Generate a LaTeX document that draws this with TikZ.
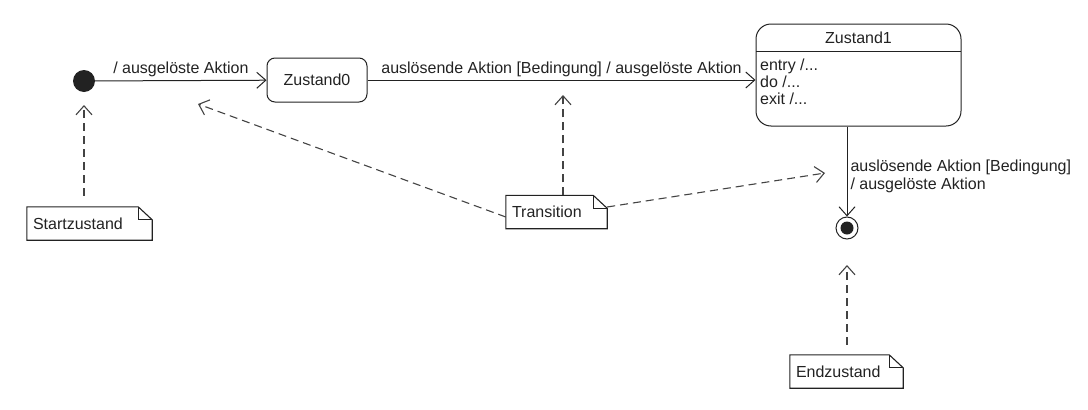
\documentclass[tikz,border=0pt]{standalone}
\usepackage{fontspec}
\setmainfont{Liberation Sans}
\usetikzlibrary{arrows.meta}
\definecolor{ink}{HTML}{222222}
\newcommand{\drawnote}[1]{%
  \draw[notel] (#1.south west) -- (#1.north west) -- ([xshift=-14pt]#1.north east) -- ([yshift=-13pt]#1.north east) -- (#1.south east) -- cycle;
  \draw[notel] ([xshift=-14pt]#1.north east) |- ([yshift=-13pt]#1.north east);}
\begin{document}
\begin{tikzpicture}[x=1pt,y=-1pt,
  every node/.style={font=\fontsize{16}{18}\selectfont, text=ink},
  line/.style={draw=ink, line width=1pt},
  notel/.style={draw=ink, line width=1.1pt},
  trans/.style={line, -{Straight Barb[length=9pt,width=16pt,line width=1pt]}},
  notearrow/.style={draw=ink!85, line width=1.1pt, dash pattern=on 8pt off 5pt, -{Straight Barb[length=9pt,width=16pt,line width=1.1pt]}},
  statebox/.style={draw=ink, line width=1pt, rounded corners=8pt, minimum width=100pt, minimum height=44pt, inner sep=0pt},
  notebox/.style={inner xsep=6pt, inner ysep=0pt, minimum height=33pt, align=left},
]
\useasboundingbox (0,0) rectangle (1088,410);
% start state
\node[circle, fill=ink, minimum size=22pt, inner sep=0pt] (start) at (84,81) {};
% Zustand0
\node[statebox] (z0) at (317,80) {Zustand0};
% Zustand1
\node[draw=ink, line width=1pt, rounded corners=15pt, minimum width=205pt, minimum height=102pt, inner sep=0pt] (z1) at (858.5,75) {};
\draw[line] (756,51) -- (961,51);
\node (z1t) at (858.5,38) {Zustand1};
\node[anchor=west, align=left, inner sep=0pt, font=\fontsize{16}{17}\selectfont] (z1b) at (760,82) {entry /...\\do /...\\exit /...};
% final state
\node[circle, draw=ink, line width=1pt, minimum size=22pt, inner sep=0pt] (fin) at (847,228) {};
\node[circle, fill=ink, minimum size=13pt, inner sep=0pt] (fini) at (fin) {};
% transitions
\draw[trans] (start) -- node[above, inner sep=3pt] {/ ausgelöste Aktion} (z0);
\draw[trans] (z0) -- node[above, inner sep=3pt] {auslösende Aktion [Bedingung] / ausgelöste Aktion} (z0 -| z1.west);
\draw[trans] (z1.south -| fin.north) -- node[pos=0.55, right, align=left, inner sep=3pt] {auslösende Aktion [Bedingung]\\/ ausgelöste Aktion} (fin.north);
% notes
\node[notebox, text width=113pt] (n1) at (89.5,223.5) {Startzustand};
\node[notebox, text width=89pt] (nt) at (556.5,212) {Transition};
\node[notebox, text width=101pt] (ne) at (846.5,371.5) {Endzustand};
\drawnote{n1}
\drawnote{nt}
\drawnote{ne}
% note anchors
\coordinate (t1) at (198,104);
\coordinate (t2) at (563,95);
\coordinate (t3) at (825,173);
\coordinate (t4) at (84,105);
\coordinate (t5) at (847,265);
\draw[notearrow, shorten <=11pt] (n1.north -| t4) -- (t4);
\draw[notearrow] ([yshift=-5pt]nt.west) -- (t1);
\draw[notearrow] (nt.north -| t2) -- (t2);
\draw[notearrow] ([yshift=5pt]nt.east) -- (t3);
\draw[notearrow, shorten <=10pt] (ne.north -| t5) -- (t5);
\end{tikzpicture}
\end{document}
